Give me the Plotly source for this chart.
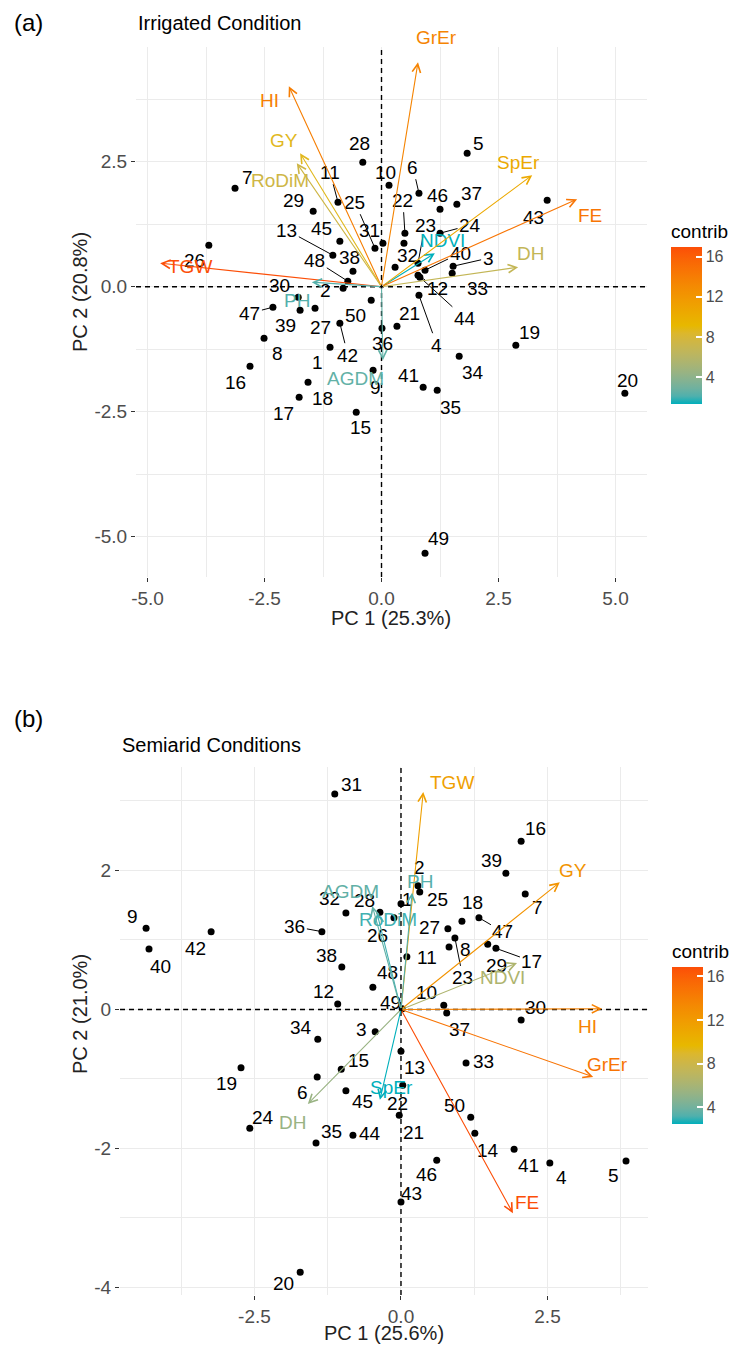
import plotly.graph_objects as go

# page is 739x1352; the html body has an 8px margin, so the figure itself is 16px smaller
PAGE_W, PAGE_H = 739, 1352
BODY = 8
W, H = PAGE_W - 2 * BODY, PAGE_H - 2 * BODY
FONT = "Liberation Sans, Arial, sans-serif"

# ---------------- data ----------------
genotypes = [str(i) for i in range(1, 51)]

irr_pc1 = [-1.10, -0.82, 1.53, 0.80, 1.83, 0.80, -3.13, -2.51, -0.18, 0.16,
           -0.93, 0.78, -1.04, 0.48, -0.54, -2.81, -1.76, -1.57, 2.87, 5.20,
           0.33, 0.50, 0.78, 1.25, -0.14, -3.69, -1.42, -0.40, -1.46, -1.78,
           0.03, 0.29, 1.51, 1.66, 1.19, 0.01, 1.61, -0.61, -1.74, 0.93,
           0.89, -0.89, 3.54, 0.82, -0.89, 1.25, -2.32, -0.72, 0.93, -0.22]
irr_pc2 = [-1.21, -0.03, 0.41, -0.17, 2.67, 1.87, 1.97, -1.03, -1.67, 2.03,
           1.69, 0.23, 0.63, 0.87, -2.51, -1.59, -2.21, -1.91, -1.17, -2.13,
           -0.79, 1.07, 0.47, 1.07, 0.77, 0.83, -0.43, 2.49, 1.51, -0.21,
           0.87, 0.39, 0.27, -1.39, -2.07, -0.83, 1.65, 0.31, -0.47, 0.33,
           -2.01, -0.73, 1.73, 0.19, 0.91, 1.55, -0.41, 0.11, -5.33, -0.27]

semi_pc1 = [0.00, 0.29, -0.44, 2.54, 3.84, -1.43, 2.12, 0.82, -4.35, 0.73,
            0.10, -1.08, 0.00, 1.26, -1.02, 2.05, 1.62, 1.04, -2.73, -1.72,
            -0.03, 0.03, 0.92, -2.58, 0.32, -0.12, 0.80, -0.36, 1.48, 2.05,
            -1.13, -0.94, 1.11, -1.42, -1.45, -1.35, 0.78, -1.01, 1.79, -4.30,
            1.93, -3.24, 0.00, -0.82, -0.94, 0.61, 1.33, -0.48, 0.02, 1.19]
semi_pc2 = [1.52, 1.78, -0.32, -2.21, -2.18, -0.97, 1.66, 0.90, 1.17, 0.06,
            0.76, 0.08, -0.60, -1.78, -0.86, 2.42, 0.88, 1.27, -0.84, -3.78,
            -1.52, -1.09, 1.03, -1.71, 1.69, 1.32, 1.16, 1.40, 0.94, -0.15,
            3.10, 1.39, -0.77, -0.43, -1.92, 1.12, -0.05, 0.61, 1.96, 0.87,
            -2.01, 1.12, -2.77, -1.81, -1.17, -2.17, 1.32, 0.32, 0.01, -1.55]

traits = ["GrEr", "HI", "GY", "RoDiM", "TGW", "PH", "AGDM", "NDVI", "SpEr", "FE", "DH"]
irr_var_pc1 = [0.78, -1.98, -1.74, -1.81, -4.73, -1.49, 0.03, 1.14, 3.22, 4.18, 2.92]
irr_var_pc2 = [4.49, 4.01, 2.67, 2.47, 0.47, 0.09, -1.47, 0.67, 2.23, 1.75, 0.39]
irr_contrib = [13.5, 14.0, 8.8, 7.5, 17.0, 2.3, 2.6, 1.4, 10.5, 14.6, 6.8]

semi_var_pc1 = [3.28, 3.43, 2.71, -0.41, 0.38, 0.19, -0.49, 1.98, -0.36, 1.91, -1.59]
semi_var_pc2 = [-0.97, 0.01, 1.83, 1.39, 3.13, 1.68, 1.49, 0.67, -1.30, -2.93, -1.36]
semi_contrib = [14.8, 13.8, 12.6, 3.0, 11.6, 3.3, 3.6, 6.4, 2.5, 16.9, 5.4]

contrib_ticks = [4, 8, 12, 16]

# label nudges (screen px: right, down) imitating ggrepel placement
irr_lab_off = {
    "1": (-13, 15), "2": (-18, 2), "3": (35, -8), "4": (18, 50), "5": (11, -10), "6": (-6, -26),
    "7": (12, -11), "8": (13, 15), "9": (2, 17), "10": (-4, -13), "11": (-8, -30), "12": (19, 13),
    "13": (-46, -25), "15": (4, 15), "16": (-15, 16), "17": (-16, 16), "18": (14, 16),
    "19": (14, -13), "20": (3, -13), "21": (13, -13), "22": (-2, -33), "23": (7, -38), "24": (30, -8),
    "25": (-20, -46), "26": (-14, 15), "27": (5, 19), "28": (-3, -19), "29": (-20, -11), "30": (-19, -12),
    "31": (-13, -13), "32": (12, -12), "33": (25, 15), "34": (14, 16), "35": (13, 17), "36": (1, 15),
    "37": (15, -11), "38": (-3, -14), "39": (-15, 15), "40": (35, -17), "41": (-15, -12), "42": (8, 32),
    "43": (-14, 17), "44": (45, 41), "45": (-18, -13), "46": (-3, -14), "47": (-23, 6), "48": (-33, -21),
    "49": (13, -15), "50": (-16, 15)}
irr_leaders = {"3", "4", "6", "11", "12", "13", "22", "23", "24", "25", "40", "42", "44", "47", "48"}

semi_lab_off = {
    "1": (7, -4), "2": (2, -18), "3": (-14, -2), "4": (12, 14), "5": (-13, 14), "6": (-15, 16),
    "7": (12, 13), "8": (16, 3), "9": (-14, -12), "10": (-17, -13), "11": (20, 1), "12": (-14, -12),
    "13": (14, 16), "14": (13, 17), "15": (17, -9), "16": (14, -13), "17": (36, 13), "18": (11, -19),
    "19": (-15, 16), "20": (-17, 11), "21": (14, 17), "22": (-5, 18), "23": (8, 40), "24": (13, -11),
    "25": (18, 7), "26": (-16, 18), "27": (-18, -1), "28": (-15, -12), "29": (9, 21), "30": (14, -12),
    "31": (17, -10), "32": (-16, -14), "33": (17, -2), "34": (-17, -12), "35": (15, -11), "36": (-27, -5),
    "37": (13, 17), "38": (-15, -12), "39": (-14, -13), "40": (11, 17), "41": (14, 16), "42": (-16, 17),
    "43": (11, -9), "44": (17, -2), "45": (17, 11), "46": (-10, 14), "47": (24, 14), "48": (15, -15),
    "49": (-12, -6), "50": (-16, -12)}
semi_leaders = {"17", "23", "36", "47"}

irr_var_lab_off = {"GrEr": (18, -25), "HI": (-19, 14), "GY": (-16, -13), "RoDiM": (-17, 17),
                   "TGW": (30, 3), "PH": (-15, 18), "AGDM": (-27, 18), "NDVI": (8, -13),
                   "SpEr": (-14, -13), "FE": (13, 16), "DH": (12, -14)}
semi_var_lab_off = {"GrEr": (14, -12), "HI": (-15, 18), "GY": (13, -12), "RoDiM": (11, 7),
                    "TGW": (29, -9), "PH": (8, -11), "AGDM": (-22, -14), "NDVI": (-15, 15),
                    "SpEr": (12, -12), "FE": (14, -11), "DH": (-15, 18)}

# ---------------- colour gradient (CIELAB interpolation like ggplot) ----------------
GRAD = ["#00AFBB", "#E7B800", "#FC4E07"]


def _h2rgb(h):
    h = h.lstrip("#")
    return [int(h[i:i + 2], 16) for i in (0, 2, 4)]


def _rgb2lab(rgb):
    lin = []
    for c in rgb:
        c = c / 255.0
        lin.append(c / 12.92 if c <= 0.04045 else ((c + 0.055) / 1.055) ** 2.4)
    r, g, b = lin
    X = (0.4124 * r + 0.3576 * g + 0.1805 * b) / 0.95047
    Y = (0.2126 * r + 0.7152 * g + 0.0722 * b)
    Z = (0.0193 * r + 0.1192 * g + 0.9505 * b) / 1.08883

    def f(t):
        return t ** (1 / 3) if t > 0.008856 else 7.787 * t + 16 / 116
    return [116 * f(Y) - 16, 500 * (f(X) - f(Y)), 200 * (f(Y) - f(Z))]


def _lab2rgb(lab):
    L, a, b = lab
    fy = (L + 16) / 116
    fx = fy + a / 500
    fz = fy - b / 200

    def finv(t):
        return t ** 3 if t ** 3 > 0.008856 else (t - 16 / 116) / 7.787
    X, Y, Z = finv(fx) * 0.95047, finv(fy), finv(fz) * 1.08883
    r = 3.2406 * X - 1.5372 * Y - 0.4986 * Z
    g = -0.9689 * X + 1.8758 * Y + 0.0415 * Z
    bb = 0.0557 * X - 0.2040 * Y + 1.0570 * Z
    out = []
    for c in (r, g, bb):
        c = 12.92 * c if c <= 0.0031308 else 1.055 * c ** (1 / 2.4) - 0.055
        out.append(int(round(min(max(c, 0), 1) * 255)))
    return out


LABS = [_rgb2lab(_h2rgb(c)) for c in GRAD]


def grad_color(t):
    t = min(max(t, 0.0), 1.0)
    if t <= 0.5:
        a, b, u = LABS[0], LABS[1], t / 0.5
    else:
        a, b, u = LABS[1], LABS[2], (t - 0.5) / 0.5
    lab = [a[i] + (b[i] - a[i]) * u for i in range(3)]
    r, g, bl = _lab2rgb(lab)
    return f"rgb({r},{g},{bl})"


colorscale = [[i / 20, grad_color(i / 20)] for i in range(21)]


# ---------------- layout geometry (page pixels -> paper fractions) ----------------
def px_x(p):
    return (p - BODY) / W


def px_y(p):
    return 1 - (p - BODY) / H


fig = go.Figure()

panels = [
    dict(xa="x", ya="y", pc1=irr_pc1, pc2=irr_pc2, vx=irr_var_pc1, vy=irr_var_pc2,
         contrib=irr_contrib, off=irr_lab_off, leaders=irr_leaders, voff=irr_var_lab_off,
         coloraxis="coloraxis"),
    dict(xa="x2", ya="y2", pc1=semi_pc1, pc2=semi_pc2, vx=semi_var_pc1, vy=semi_var_pc2,
         contrib=semi_contrib, off=semi_lab_off, leaders=semi_leaders, voff=semi_var_lab_off,
         coloraxis="coloraxis2"),
]

LAB_SIZE = 19
annotations = []
shapes = []

for P in panels:
    xa, ya = P["xa"], P["ya"]
    # dashed reference lines
    shapes.append(dict(type="line", xref=xa, yref=ya + " domain", x0=0, x1=0, y0=0, y1=1,
                       line=dict(color="black", width=1.4, dash="5px,4px"), layer="above"))
    shapes.append(dict(type="line", xref=xa + " domain", yref=ya, x0=0, x1=1, y0=0, y1=0,
                       line=dict(color="black", width=1.4, dash="5px,4px"), layer="above"))
    # individuals
    fig.add_trace(go.Scatter(x=P["pc1"], y=P["pc2"], mode="markers", xaxis=xa, yaxis=ya,
                             marker=dict(color="black", size=7), showlegend=False,
                             hoverinfo="text", text=genotypes))
    for g, x, y in zip(genotypes, P["pc1"], P["pc2"]):
        if g not in P["off"]:
            continue
        dx, dy = P["off"][g]
        if g in P["leaders"]:
            annotations.append(dict(x=x, y=y, xref=xa, yref=ya, text=g, showarrow=True,
                                    ax=dx, ay=dy, arrowhead=0, arrowwidth=1, arrowcolor="black",
                                    standoff=3, font=dict(family=FONT, size=LAB_SIZE, color="black")))
        else:
            annotations.append(dict(x=x, y=y, xref=xa, yref=ya, text=g, showarrow=False,
                                    xshift=dx, yshift=-dy,
                                    font=dict(family=FONT, size=LAB_SIZE, color="black")))
    # variables
    cmin, cmax = min(P["contrib"]), max(P["contrib"])
    for t, x, y, c in zip(traits, P["vx"], P["vy"], P["contrib"]):
        col = grad_color((c - cmin) / (cmax - cmin))
        annotations.append(dict(x=x, y=y, xref=xa, yref=ya, ax=0, ay=0, axref=xa, ayref=ya,
                                text="", showarrow=True, arrowhead=5, arrowsize=1.5,
                                arrowwidth=1.1, arrowcolor=col, standoff=0))
        dx, dy = P["voff"][t]
        annotations.append(dict(x=x, y=y, xref=xa, yref=ya, text=t, showarrow=False,
                                xshift=dx, yshift=-dy,
                                font=dict(family=FONT, size=LAB_SIZE, color=col)))
    # dummy trace for the colour bar
    fig.add_trace(go.Scatter(x=P["vx"], y=P["vy"], mode="markers", xaxis=xa, yaxis=ya,
                             marker=dict(color=P["contrib"], coloraxis=P["coloraxis"], size=1,
                                         opacity=0), showlegend=False, hoverinfo="skip"))


def txt(s, x, y, size, color="black", angle=0, xanchor="center"):
    return dict(text=s, x=px_x(x), y=px_y(y), xref="paper", yref="paper", showarrow=False,
                xanchor=xanchor, yanchor="middle", textangle=angle,
                font=dict(family=FONT, size=size, color=color))


annotations += [
    txt("(a)", 12, 22, 24, xanchor="left"),
    txt("(b)", 12, 718, 24, xanchor="left"),
    txt("Irrigated Condition", 136, 23, 20, xanchor="left"),
    txt("Semiarid Conditions", 120, 745, 20, xanchor="left"),
    txt("PC 1 (25.3%)", 391, 618, 20, "#222"),
    txt("PC 2 (20.8%)", 80, 292, 20, "#222", -90),
    txt("PC 1 (25.6%)", 384, 1333, 20, "#222"),
    txt("PC 2 (21.0%)", 80, 1014, 20, "#222", -90),
]

GRID = "#EBEBEB"
tickfont = dict(family=FONT, size=19, color="#4D4D4D")
common = dict(showgrid=True, gridcolor=GRID, gridwidth=1, zeroline=False, showline=False,
              ticks="outside", ticklen=4, tickcolor="#333333", tickwidth=1, tickfont=tickfont,
              fixedrange=True)


def cbar(x_left, y_center, length):
    return dict(title=dict(text="contrib", side="top",
                           font=dict(family=FONT, size=19, color="black")),
                x=px_x(x_left), xanchor="left", y=px_y(y_center), yanchor="middle",
                len=length / H, lenmode="fraction", thickness=31,
                outlinewidth=0, xpad=0, ypad=0,
                tickvals=contrib_ticks, ticks="inside", ticklen=6,
                tickcolor="white", tickwidth=1.5,
                tickfont=dict(family=FONT, size=16, color="#4D4D4D"))


fig.update_layout(
    width=W, height=H, margin=dict(l=0, r=0, t=0, b=0, autoexpand=False),
    paper_bgcolor="white", plot_bgcolor="white", template="none",
    xaxis=dict(domain=[px_x(136), px_x(647)], range=[-5.246, 5.673], anchor="y",
               tickvals=[-5, -2.5, 0, 2.5, 5], ticktext=["-5.0", "-2.5", "0.0", "2.5", "5.0"],
               minor=dict(tickvals=[-3.75, -1.25, 1.25, 3.75], showgrid=True, gridcolor=GRID,
                          ticks=""), **common),
    yaxis=dict(domain=[px_y(577), px_y(47)], range=[-5.806, 4.794], anchor="x",
               tickvals=[-5, -2.5, 0, 2.5], ticktext=["-5.0", "-2.5", "0.0", "2.5"],
               minor=dict(tickvals=[-3.75, -1.25, 1.25, 3.75], showgrid=True, gridcolor=GRID,
                          ticks=""), **common),
    xaxis2=dict(domain=[px_x(120), px_x(648)], range=[-4.795, 4.215], anchor="y2",
                tickvals=[-2.5, 0, 2.5], ticktext=["-2.5", "0.0", "2.5"],
                minor=dict(tickvals=[-3.75, -1.25, 1.25, 3.75], showgrid=True, gridcolor=GRID,
                           ticks=""), **common),
    yaxis2=dict(domain=[px_y(1295), px_y(767)], range=[-4.108, 3.489], anchor="x2",
                tickvals=[-4, -2, 0, 2], ticktext=["-4", "-2", "0", "2"],
                minor=dict(tickvals=[-3, -1, 1, 3], showgrid=True, gridcolor=GRID, ticks=""),
                **common),
    coloraxis=dict(colorscale=colorscale, cmin=min(irr_contrib), cmax=max(irr_contrib),
                   colorbar=cbar(671, 312, 183)),
    coloraxis2=dict(colorscale=colorscale, cmin=min(semi_contrib), cmax=max(semi_contrib),
                    colorbar=cbar(672, 1032, 183)),
    annotations=annotations, shapes=shapes, showlegend=False,
)

fig.write_html("out.html")
